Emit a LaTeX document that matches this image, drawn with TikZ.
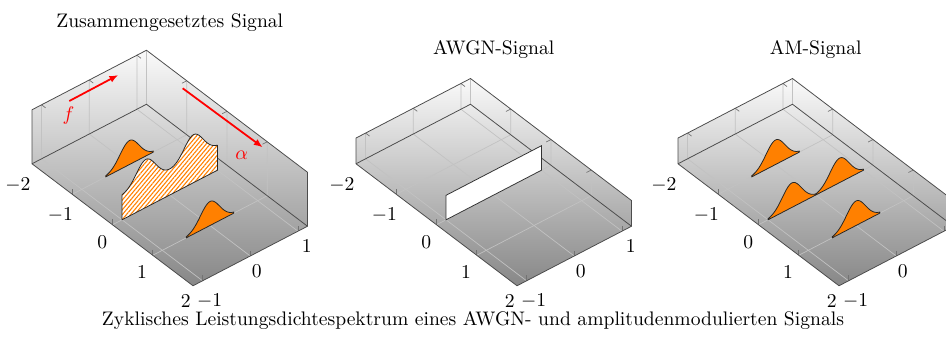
\documentclass[tikz,border=0pt]{standalone}
\usetikzlibrary{arrows.meta,patterns.meta}
\tikzset{
  boxedge/.style={draw=black!70, line width=0.4pt, line join=round},
  gridline/.style={draw=black!24, line width=0.35pt},
  tickline/.style={draw=black!55, line width=0.35pt},
  gauss/.style={fill=orange, draw=black!85, line width=0.4pt, line join=round},
  hatchsurf/.style={preaction={fill=white}, pattern={Lines[angle=50,distance=1.6pt,line width=0.55pt]}, pattern color=orange, draw=black!85, line width=0.4pt, line join=round},
  noisesurf/.style={fill=white, draw=black!80, line width=0.4pt},
  redarrow/.style={draw=red, line width=0.9pt, -{Latex[length=4.5pt,width=3.6pt]}},
  ticklab/.style={inner sep=0pt},
  redlab/.style={inner sep=0pt, text=red},
}
\newcommand{\panelbox}[1]{%
  \shade[top color=black!2, bottom color=black!47] (-2,1.2,#1) -- (-2,-1.2,#1) -- (-2,-1.2,0) -- (2,-1.2,0) -- (2,1.2,0) -- (2,1.2,#1) -- cycle;
  \foreach \g in {-1,0,1} {
    \draw[gridline] (\g,-1.2,0) -- (\g,1.2,0) -- (\g,1.2,#1);
    \draw[gridline] (-2,\g,#1) -- (-2,\g,0) -- (2,\g,0);
    \draw[tickline] (-2,\g,#1) -- ++(0.1,0,0);
    \draw[tickline] (\g,1.2,#1) -- ++(0,-0.1,0);
    \draw[tickline] (\g,-1.2,0) -- ++(0pt,2.8pt);
    \draw[tickline] (2,\g,0) -- ++(0pt,2.8pt);
  }
  \draw[gridline] (-2,1.2,0) -- (-2,1.2,#1);
  \draw[boxedge] (-2,1.2,#1) -- (-2,-1.2,#1) -- (-2,-1.2,0) -- (2,-1.2,0) -- (2,1.2,0) -- (2,1.2,#1) -- cycle;
  \draw[boxedge] (-2,-1.2,0) -- (-2,1.2,0) -- (2,1.2,0);
}
\newcommand{\gaussat}[2]{%
  \filldraw[gauss] (#1,{#2-0.5},0) -- plot[variable=\t, domain=-0.5:0.5, samples=41] (#1,{#2+\t},{exp(-((\t)*(\t))/0.08)}) -- (#1,{#2+0.5},0) -- cycle;
}
\newcommand{\panellabels}[1]{%
  \node[ticklab] (#1xa) at (17.9,185) {$-2$};
  \node[ticklab] (#1xb) at (60.5,215) {$-1$};
  \node[ticklab] (#1xc) at (102.3,241.7) {$0$};
  \node[ticklab] (#1xd) at (142,272.5) {$1$};
  \node[ticklab] (#1xe) at (185.8,300.8) {$2$};
  \node[ticklab] (#1ya) at (209.7,300.8) {$-1$};
  \node[ticklab] (#1yb) at (256.8,270.8) {$0$};
}
\begin{document}
\begin{tikzpicture}[x=0.51pt,y=-0.51pt]
\useasboundingbox (0,0) rectangle (946,336);
% ---------- panel 1
\begin{scope}[shift={(169.75,195)}, x={(20.5275pt,-15.555pt)}, y={(24.327pt,12.648pt)}, z={(0pt,12.24pt)}]
  \panelbox{2.25}
  \gaussat{-1}{0}
  \draw[hatchsurf] (0,-1,0) -- plot[variable=\t, domain=-1:1, samples=101] (0,\t,{1+exp(-((\t-0.5)*(\t-0.5))/0.08)+exp(-((\t+0.5)*(\t+0.5))/0.08)}) -- (0,1,0) -- cycle;
  \gaussat{1}{0}
\end{scope}
\panellabels{a}
\node[ticklab] (ayc) at (306.8,246.3) {$1$};
\coordinate (fs) at (69.3,101);
\coordinate (fe) at (118.3,75);
\coordinate (as) at (182.7,88.3);
\coordinate (ae) at (262.7,147.3);
\draw[redarrow] (fs) -- (fe);
\draw[redarrow] (as) -- (ae);
\node[redlab] (flab) at (68.5,116) {$f$};
\node[redlab] (alab) at (241.7,155) {$\alpha$};
\node[anchor=base] (t1) at (169.75,27.3) {Zusammengesetztes Signal};
% ---------- panel 2
\begin{scope}[shift={(493.75,195)}, x={(20.5275pt,-15.555pt)}, y={(24.327pt,12.648pt)}, z={(0pt,12.495pt)}]
  \panelbox{1.05}
  \draw[noisesurf] (0,-1,0) -- (0,-1,1) -- (0,1,1) -- (0,1,0) -- cycle;
\end{scope}
\begin{scope}[shift={(324,0)}]
  \panellabels{b}
  \node[ticklab] (byc) at (306.8,246.3) {$1$};
\end{scope}
\node[anchor=base] (t2) at (493.75,54.5) {AWGN-Signal};
% ---------- panel 3
\begin{scope}[shift={(815.75,195)}, x={(20.5275pt,-15.555pt)}, y={(24.327pt,12.648pt)}, z={(0pt,12.495pt)}]
  \panelbox{1.05}
  \gaussat{-1}{0}
  \gaussat{0}{-0.5}
  \gaussat{0}{0.5}
  \gaussat{1}{0}
\end{scope}
\begin{scope}[shift={(646,0)}]
  \panellabels{c}
\end{scope}
\node[anchor=base] (t3) at (815.75,54) {AM-Signal};
% ---------- caption
\node[anchor=base] (cap) at (473,325.7) {Zyklisches Leistungsdichtespektrum eines AWGN- und amplitudenmodulierten Signals};
\end{tikzpicture}
\end{document}
